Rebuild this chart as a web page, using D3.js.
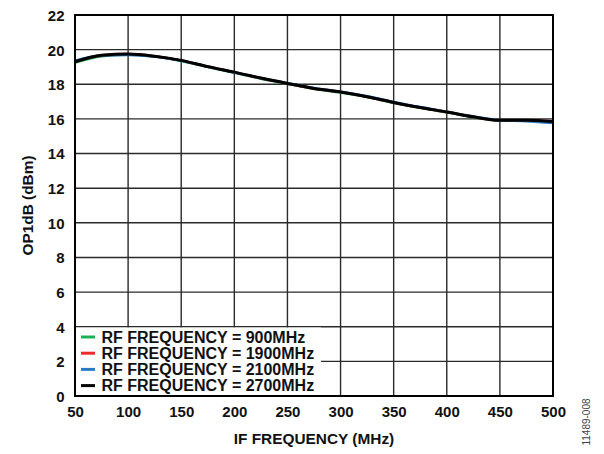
<!DOCTYPE html>
<html>
<head>
<meta charset="utf-8">
<script src="https://cdn.jsdelivr.net/npm/d3@7"></script>
<style>
  html, body { margin: 0; padding: 0; background: #fff; }
  svg { display: block; }
  text { font-family: "Liberation Sans", Arial, sans-serif; }
</style>
</head>
<body>
<svg id="chart" width="604" height="454"></svg>
<script>
const ifFreq = [50, 75, 100, 125, 150, 175, 200, 225, 250, 275, 300, 325, 350, 375, 400, 425, 450, 475, 500];
const rf900  = [19.25, 19.62, 19.72, 19.60, 19.35, 19.00, 18.66, 18.32, 18.03, 17.74, 17.52, 17.26, 16.93, 16.64, 16.38, 16.10, 15.90, 15.90, 15.82];
const rf1900 = [19.30, 19.67, 19.74, 19.62, 19.37, 19.02, 18.69, 18.35, 18.05, 17.76, 17.55, 17.28, 16.95, 16.66, 16.40, 16.12, 15.92, 15.92, 15.84];
const rf2100 = [19.36, 19.66, 19.70, 19.60, 19.36, 19.02, 18.68, 18.36, 18.06, 17.78, 17.56, 17.30, 16.98, 16.68, 16.41, 16.14, 15.92, 15.87, 15.76];
const rf2700 = [19.30, 19.68, 19.75, 19.62, 19.38, 19.02, 18.70, 18.36, 18.05, 17.76, 17.55, 17.28, 16.95, 16.66, 16.40, 16.12, 15.92, 15.92, 15.85];
const seriesNames = ["RF FREQUENCY = 900MHz", "RF FREQUENCY = 1900MHz", "RF FREQUENCY = 2100MHz", "RF FREQUENCY = 2700MHz"];
const seriesColors = ["#1aae55", "#ee2a2a", "#2a7cc7", "#000000"];
const xTicks = [50, 100, 150, 200, 250, 300, 350, 400, 450, 500];
const yTicks = [0, 2, 4, 6, 8, 10, 12, 14, 16, 18, 20, 22];
const xTitle = "IF FREQUENCY (MHz)";
const yTitle = "OP1dB (dBm)";
const figId = "11489-008";

const seriesValues = [rf900, rf1900, rf2100, rf2700];

const svg = d3.select("#chart");
const L = 75, R = 553, T = 15, B = 396;
const x = d3.scaleLinear().domain([50, 500]).range([L, R]);
const y = d3.scaleLinear().domain([0, 22]).range([B, T]);

// gridlines
const g = svg.append("g");
g.selectAll("line.vg").data(xTicks.slice(1, -1)).enter().append("line")
  .attr("x1", d => x(d)).attr("x2", d => x(d)).attr("y1", T).attr("y2", B)
  .attr("stroke", "#2a2a2a").attr("stroke-width", 1.4);
g.selectAll("line.hg").data(yTicks.slice(1, -1)).enter().append("line")
  .attr("x1", L).attr("x2", R).attr("y1", d => y(d)).attr("y2", d => y(d))
  .attr("stroke", "#2a2a2a").attr("stroke-width", 1.4);

// curves
const line = d3.line().x((d, i) => x(ifFreq[i])).y(d => y(d)).curve(d3.curveMonotoneX);
seriesValues.forEach((vals, k) => {
  svg.append("path").datum(vals).attr("d", line)
    .attr("fill", "none").attr("stroke", seriesColors[k])
    .attr("stroke-width", k === 3 ? 3 : 2.6).attr("stroke-linejoin", "round");
});

// legend
const legW = x(281.5) - L;
const legG = svg.append("g");
legG.append("rect").attr("x", L).attr("y", y(4) + 0.8).attr("width", legW).attr("height", B - y(4) - 0.8)
  .attr("fill", "#fff");
const legY = [337, 353.2, 369.4, 385.6];
seriesNames.forEach((name, k) => {
  legG.append("line").attr("x1", 81).attr("x2", 95).attr("y1", legY[k]).attr("y2", legY[k])
    .attr("stroke", seriesColors[k]).attr("stroke-width", 3);
  legG.append("text").attr("x", 101.5).attr("y", legY[k] + 5.8)
    .attr("font-size", 16).attr("font-weight", "bold").attr("fill", "#111")
    .text(name);
});

// frame
svg.append("rect").attr("x", L).attr("y", T).attr("width", R - L).attr("height", B - T)
  .attr("fill", "none").attr("stroke", "#000").attr("stroke-width", 2);

// axes (tick labels via d3 axes)
const xAxis = d3.axisBottom(x).tickValues(xTicks).tickSize(0).tickPadding(0);
const xa = svg.append("g").attr("transform", `translate(0,${B})`).call(xAxis);
xa.select(".domain").remove();
xa.selectAll("text").attr("font-family", "Liberation Sans, Arial, sans-serif")
  .attr("font-size", 15).attr("font-weight", "bold").attr("fill", "#111")
  .attr("dy", null).attr("y", 21);

const yAxis = d3.axisLeft(y).tickValues(yTicks).tickSize(0).tickPadding(0);
const ya = svg.append("g").attr("transform", `translate(${L},0)`).call(yAxis);
ya.select(".domain").remove();
ya.selectAll("text").attr("font-family", "Liberation Sans, Arial, sans-serif")
  .attr("font-size", 15).attr("font-weight", "bold").attr("fill", "#111")
  .attr("x", -10.5).attr("dy", "0.36em");

// titles
svg.append("text").attr("x", (L + R) / 2).attr("y", 444).attr("text-anchor", "middle")
  .attr("font-size", 15.4).attr("font-weight", "bold").attr("fill", "#111").text(xTitle);
svg.append("text").attr("transform", `translate(33,${(T + B) / 2}) rotate(-90)`)
  .attr("text-anchor", "middle").attr("font-size", 15.4).attr("font-weight", "bold").attr("fill", "#111")
  .text(yTitle);
svg.append("text").attr("transform", `translate(590,422) rotate(-90)`)
  .attr("text-anchor", "middle").attr("font-size", 10).attr("fill", "#444").text(figId);
</script>
</body>
</html>
